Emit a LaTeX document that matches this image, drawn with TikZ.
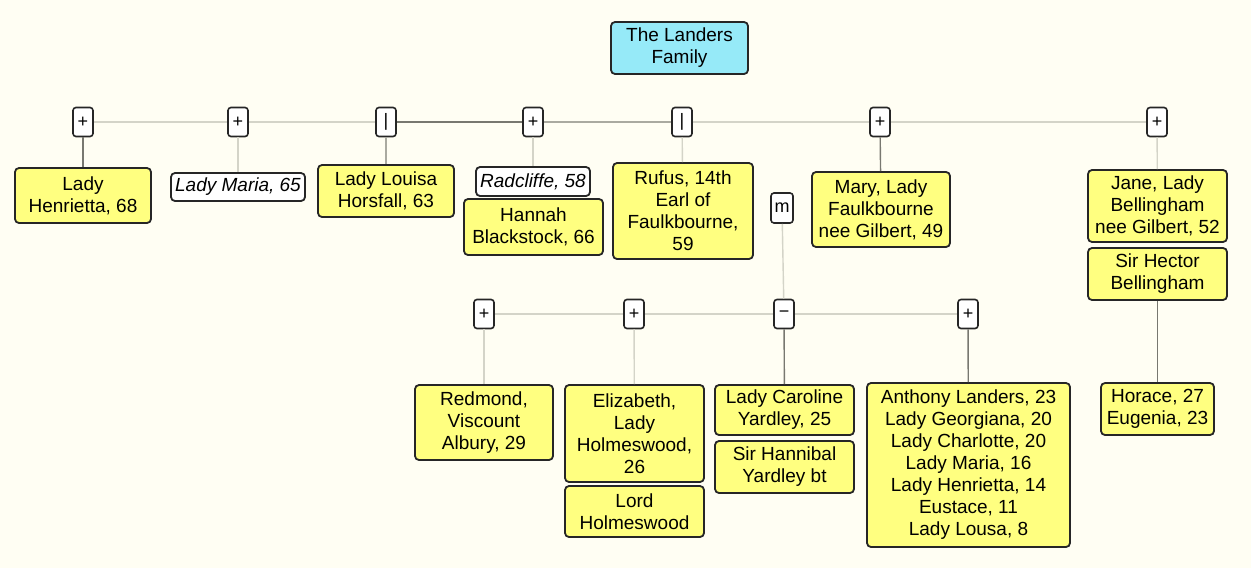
\documentclass[tikz,border=0pt]{standalone}
\usepackage{fontspec}
\setmainfont{Liberation Sans}
\definecolor{famyellow}{RGB}{255, 255, 128}
\definecolor{famcyan}{RGB}{150, 234, 248}
\definecolor{paper}{RGB}{255, 254, 243}
\definecolor{linkgray}{RGB}{212, 212, 200}
\definecolor{linkmid}{RGB}{170, 170, 160}
\definecolor{linkdark}{RGB}{120, 120, 112}

\begin{document}
\begin{tikzpicture}[x=0.5pt, y=-0.5pt,
  person/.style={draw=black!85, fill=famyellow, line width=0.9pt, rounded corners=2pt,
    align=center, inner sep=1pt, font=\fontsize{9.5}{11}\selectfont},
  spouse/.style={person, fill=white, font=\fontsize{9.5}{11}\selectfont\itshape},
  toggle/.style={draw=black!85, fill=white, line width=0.8pt, rounded corners=1.5pt,
    minimum width=10pt, minimum height=14.5pt, inner sep=0pt, font=\fontsize{9}{9}\selectfont},
  faintlink/.style={draw=linkgray, line width=0.7pt},
  midlink/.style={draw=linkmid, line width=0.7pt},
  darklink/.style={draw=linkdark, line width=0.7pt}]

  \useasboundingbox (0,0) rectangle (1251,568);
  \fill[paper] (0,0) rectangle (1251,568);

  % Title
  \node[person, fill=famcyan, minimum width=68.5pt, minimum height=26pt] (title) at (679.5, 48) {The Landers\\Family};

  % Top generation
  \node[toggle] (mhen) at (83, 122) {+};
  \node[toggle] (mmaria) at (238, 122) {+};
  \node[toggle] (mlouisa) at (386, 122) {|};
  \node[toggle] (mradc) at (533, 122) {+};
  \node[toggle] (mrufus) at (682, 122) {|};
  \node[toggle] (mmary) at (880, 122) {+};
  \node[toggle] (mjane) at (1157, 122) {+};

  \node[person, minimum width=68pt, minimum height=27.5pt] (henrietta) at (83, 195.5) {Lady\\Henrietta, 68};
  \node[spouse, minimum width=67pt, minimum height=14pt] (mariaold) at (238, 187) {Lady Maria, 65};
  \node[person, minimum width=68pt, minimum height=26pt] (louisa) at (386, 191) {Lady Louisa\\Horsfall, 63};
  \node[spouse, minimum width=57pt, minimum height=14.5pt] (radcliffe) at (533, 181.5) {Radcliffe, 58};
  \node[person, minimum width=69.5pt, minimum height=28pt] (hannah) at (533.5, 227) {Hannah\\Blackstock, 66};
  \node[person, minimum width=70pt, minimum height=48pt] (rufus) at (683, 211) {Rufus, 14th\\Earl of\\Faulkbourne,\\59};
  \node[toggle, minimum width=11pt, minimum height=15pt] (mm) at (782, 208) {m};
  \node[person, minimum width=69pt, minimum height=37.5pt] (mary) at (881, 209.5) {Mary, Lady\\Faulkbourne\\nee Gilbert, 49};
  \node[person, minimum width=69.5pt, minimum height=36pt] (jane) at (1157.5, 206) {Jane, Lady\\Bellingham\\nee Gilbert, 52};
  \node[person, minimum width=69.5pt, minimum height=26pt] (hector) at (1157.5, 274) {Sir Hector\\Bellingham};
  \node[person, minimum width=56.5pt, minimum height=26pt] (horace) at (1157.5, 409) {Horace, 27\\Eugenia, 23};

  % Second generation
  \node[toggle] (mredm) at (484, 314) {+};
  \node[toggle] (meliz) at (634, 314) {+};
  \node[toggle] (mcaro) at (784, 314) {\textminus};
  \node[toggle] (mkids) at (968, 314) {+};

  \node[person, minimum width=69pt, minimum height=37.5pt] (redmond) at (484, 422.5) {Redmond,\\Viscount\\Albury, 29};
  \node[person, minimum width=69.5pt, minimum height=48.5pt] (elizabeth) at (634.5, 433.5) {Elizabeth,\\Lady\\Holmeswood,\\26};
  \node[person, minimum width=69.5pt, minimum height=25.5pt] (lordh) at (634.5, 511.5) {Lord\\Holmeswood};
  \node[person, minimum width=69.5pt, minimum height=25pt] (caroline) at (784.5, 410) {Lady Caroline\\Yardley, 25};
  \node[person, minimum width=69.5pt, minimum height=26pt] (hannibal) at (784.5, 467) {Sir Hannibal\\Yardley bt};
  \node[person, minimum width=101.5pt, minimum height=82pt] (children) at (968.5, 465) {Anthony Landers, 23\\Lady Georgiana, 20\\Lady Charlotte, 20\\Lady Maria, 16\\Lady Henrietta, 14\\Eustace, 11\\Lady Lousa, 8};

  % Links
  \draw[faintlink] (mhen) -- (mmaria);
  \draw[faintlink] (mmaria) -- (mlouisa);
  \draw[darklink] (mlouisa) -- (mradc);
  \draw[midlink] (mradc) -- (mrufus);
  \draw[faintlink] (mrufus) -- (mmary);
  \draw[faintlink] (mmary) -- (mjane);
  \draw[darklink] (mhen) -- (henrietta);
  \draw[faintlink] (mmaria) -- (mariaold);
  \draw[midlink] (mlouisa) -- (louisa);
  \draw[faintlink] (mradc) -- (radcliffe);
  \draw[faintlink] (mrufus) -- (rufus);
  \draw[darklink] (mmary) -- (mary);
  \draw[faintlink] (mjane) -- (jane);
  \draw[faintlink] (mm) -- (mcaro);
  \draw[darklink] (hector) -- (horace);

  \draw[faintlink] (mredm) -- (meliz);
  \draw[faintlink] (meliz) -- (mcaro);
  \draw[faintlink] (mcaro) -- (mkids);
  \draw[faintlink] (mredm) -- (redmond);
  \draw[faintlink] (meliz) -- (elizabeth);
  \draw[darklink] (mcaro) -- (caroline);
  \draw[darklink] (mkids) -- (children);
\end{tikzpicture}
\end{document}
